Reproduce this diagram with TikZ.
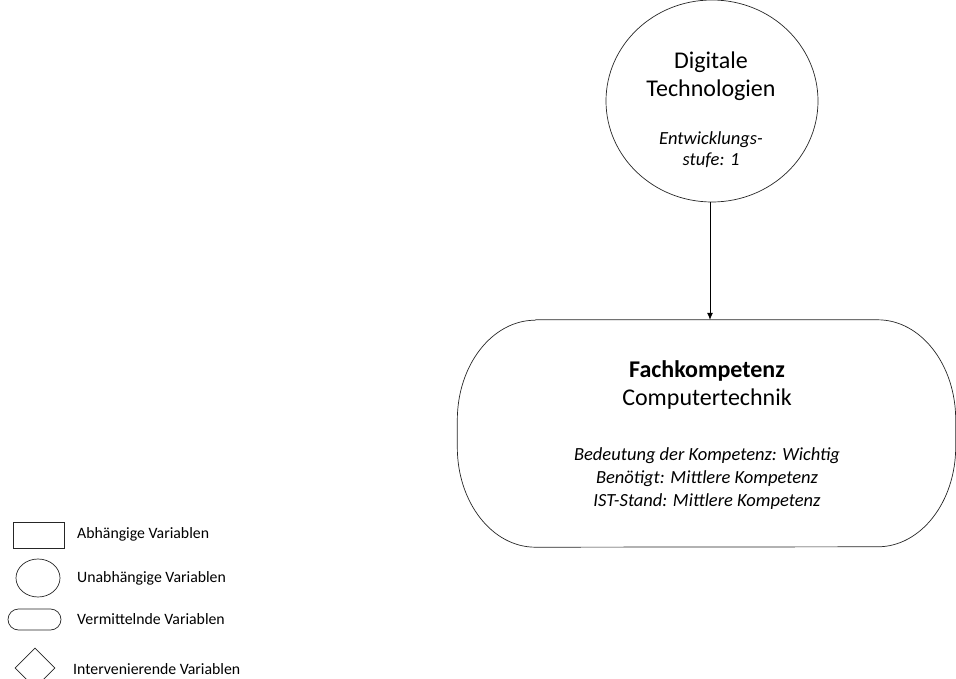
\documentclass[tikz,border=0pt]{standalone}
\usepackage{fontspec}
\setmainfont{Carlito}
\usetikzlibrary{shapes.geometric,arrows.meta}

\begin{document}
\begin{tikzpicture}[x=1pt,y=-1pt,
  outline/.style={draw=black!85, line width=0.7pt},
  bigtext/.style={font=\fontsize{24}{28}\selectfont, align=center, inner sep=0pt},
  circinfo/.style={font=\fontsize{18.5}{21}\selectfont\itshape, align=center, inner sep=0pt},
  boxinfo/.style={font=\fontsize{18.5}{23}\selectfont\itshape, align=center, inner sep=0pt},
  legendtext/.style={font=\fontsize{15.8}{18}\selectfont, anchor=west, inner sep=0pt},
  arrowline/.style={draw=black, line width=0.8pt, -{Latex[length=7pt,width=6pt]}}
]
\useasboundingbox (0,0) rectangle (956,679);

% independent variable: digital technologies
\node[outline, ellipse, minimum width=212pt, minimum height=202pt, inner sep=0pt] (dt) at (712,101) {};
% multi-line nodes: the base anchor sits on the last line
\node[bigtext, anchor=base] (dtname) at (711,97) {Digitale\\Technologien};
\node[circinfo, anchor=base] (dtinfo) at (711,166) {Entwicklungs-\\stufe: 1};

% mediating variable: professional competence
\node[minimum width=498pt, minimum height=227pt, inner sep=0pt] (fk) at (706.5,433.5) {};
\draw[outline] ([xshift=78pt]fk.north west) -- ([xshift=-78pt]fk.north east)
  arc[start angle=90, end angle=0, x radius=78pt, y radius=100pt]
  -- ++(0,27)
  arc[start angle=0, end angle=-90, x radius=78pt, y radius=100pt]
  -- ([xshift=78pt]fk.south west)
  arc[start angle=-90, end angle=-180, x radius=78pt, y radius=100pt]
  -- ++(0,-27)
  arc[start angle=180, end angle=90, x radius=78pt, y radius=100pt];
\node[bigtext, anchor=base] (fkname) at (707,405) {\textbf{Fachkompetenz}\\Computertechnik};
\node[boxinfo, anchor=base] (fkinfo) at (707,506) {Bedeutung der Kompetenz: Wichtig\\Benötigt: Mittlere Kompetenz\\IST-Stand: Mittlere Kompetenz};

% influence
\draw[arrowline] ([xshift=-2pt]dt.south) -- ([xshift=-2pt]dt.south |- fk.north);

% legend
\node[outline, rectangle, minimum width=51pt, minimum height=26pt, inner sep=0pt] (lrect) at (38.5,535) {};
\node[legendtext] (lrectt) at (77,534) {Abhängige Variablen};
\node[outline, ellipse, minimum width=44pt, minimum height=38pt, inner sep=0pt] (lcirc) at (38,578) {};
\node[legendtext] (lcirct) at (77,578) {Unabhängige Variablen};
\node[outline, rectangle, rounded corners=10.5pt, minimum width=53pt, minimum height=21pt, inner sep=0pt] (lstad) at (34.5,619.5) {};
\node[legendtext] (lstadt) at (77,619) {Vermittelnde Variablen};
\node[outline, diamond, minimum width=40pt, minimum height=40pt, inner sep=0pt] (ldiam) at (35,668) {};
\node[legendtext] (ldiamt) at (73,669) {Intervenierende Variablen};
\end{tikzpicture}
\end{document}
